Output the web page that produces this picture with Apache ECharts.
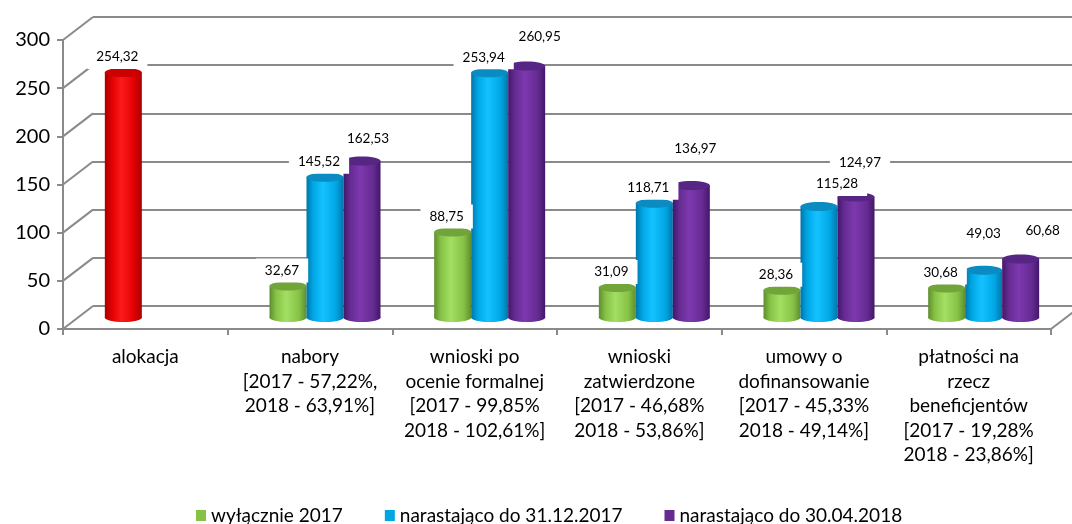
<!DOCTYPE html>
<html>
<head>
<meta charset="utf-8">
<script src="https://cdn.jsdelivr.net/npm/echarts@6/dist/echarts.min.js"></script>
<style>
  html, body { margin: 0; padding: 0; background: #fff; }
  #chart { width: 1072px; height: 524px; }
</style>
</head>
<body>
<div id="chart"></div>
<script>
// dane
const categories = [
  'alokacja',
  'nabory\n[2017 - 57,22%,\n2018 - 63,91%]',
  'wnioski po\nocenie formalnej\n[2017 - 99,85%\n2018 - 102,61%]',
  'wnioski\nzatwierdzone\n[2017 - 46,68%\n2018 - 53,86%]',
  'umowy o\ndofinansowanie\n[2017 - 45,33%\n2018 - 49,14%]',
  'płatności na\nrzecz\nbeneficjentów\n[2017 - 19,28%\n2018 - 23,86%]'
];
const allocation = [254.32, null, null, null, null, null];
const only2017 = [null, 32.67, 88.75, 31.09, 28.36, 30.68];
const upTo2017 = [null, 145.52, 253.94, 118.71, 115.28, 49.03];
const upTo2018 = [null, 162.53, 260.95, 136.97, 124.97, 60.68];
const seriesNames = ['wyłącznie 2017', 'narastająco do 31.12.2017', 'narastająco do 30.04.2018'];
const yTicks = [0, 50, 100, 150, 200, 250, 300];

// przesunięcia etykiet (jak w oryginale, ręcznie poprzesuwane)
const shiftUpTo2017 = [null, [0, 0], [0, 0], [0, 0], [24, -7], [6, -21]];
const shiftUpTo2018 = [null, [12, -7], [19, -14], [10, -21], [10, -19], [28, -13]];

const BAR_W = 37;
const RY = 4.5;
const DEPTH = [30, -23];
const LINE = '#8a8a8a';

const palette = {
  red:    { dark: '#a80000', mid: '#e00000', light: '#ff1a1a', top: '#cc0000' },
  green:  { dark: '#5f8d2e', mid: '#86c246', light: '#a3df62', top: '#71a53a' },
  blue:   { dark: '#0075a8', mid: '#00a6e4', light: '#14c2ff', top: '#0a8cc2' },
  purple: { dark: '#43176a', mid: '#652b92', light: '#7d39ae', top: '#572584' }
};

function fmt(v) {
  return v.toFixed(2).replace('.', ',');
}

function toData(values) {
  const out = [];
  values.forEach(function (v, i) { if (v != null) out.push([i, v]); });
  return out;
}

function cylinder(name, values, slot, c) {
  return {
    name: name,
    type: 'custom',
    xAxisIndex: 2,
    yAxisIndex: 2,
    z: 3,
    itemStyle: { color: c.mid },
    data: toData(values),
    renderItem: function (params, api) {
      const cat = api.value(0);
      const v = api.value(1);
      const top = api.coord([cat, v]);
      const base = api.coord([cat, 0]);
      const cx = top[0] + (slot - 1) * BAR_W;
      const hw = BAR_W / 2;
      const grad = new echarts.graphic.LinearGradient(0, 0, 1, 0, [
        { offset: 0, color: c.dark },
        { offset: 0.18, color: c.mid },
        { offset: 0.45, color: c.light },
        { offset: 0.8, color: c.mid },
        { offset: 1, color: c.dark }
      ]);
      return {
        type: 'group',
        children: [
          { type: 'ellipse', shape: { cx: cx, cy: base[1], rx: hw, ry: RY }, style: { fill: grad } },
          { type: 'rect', shape: { x: cx - hw, y: top[1], width: BAR_W, height: base[1] - top[1] }, style: { fill: grad } },
          { type: 'ellipse', shape: { cx: cx, cy: top[1], rx: hw, ry: RY }, style: { fill: c.top } }
        ]
      };
    }
  };
}

// etykiety wartości: [kategoria, wartość, slot, dx, dy]
const labelData = [];
allocation.forEach(function (v, i) { if (v != null) labelData.push([i, v, 0, 0, 0]); });
only2017.forEach(function (v, i) { if (v != null) labelData.push([i, v, 0, 0, 0]); });
upTo2017.forEach(function (v, i) { if (v != null) labelData.push([i, v, 1, shiftUpTo2017[i][0], shiftUpTo2017[i][1]]); });
upTo2018.forEach(function (v, i) { if (v != null) labelData.push([i, v, 2, shiftUpTo2018[i][0], shiftUpTo2018[i][1]]); });

const myChart = echarts.init(document.getElementById('chart'));

const option = {
  animation: false,
  textStyle: { fontFamily: 'Lato' },
  grid: [
    { left: 63, top: 40, width: 988, height: 289 },   // front
    { left: 93, top: 17, width: 988, height: 289 },   // back wall
    { left: 78, top: 28.5, width: 988, height: 289 }  // bar plane
  ],
  legend: {
    data: seriesNames,
    left: 196,
    top: 506,
    padding: 0,
    icon: 'rect',
    itemWidth: 10,
    itemHeight: 11,
    itemGap: 42,
    textStyle: { fontFamily: 'Lato', fontSize: 19, color: '#000' }
  },
  xAxis: [
    {
      type: 'category', gridIndex: 0, data: categories,
      axisLine: { lineStyle: { color: LINE, width: 2 } },
      axisTick: { show: true, length: 6, lineStyle: { color: LINE, width: 2 } },
      axisLabel: {
        interval: 0, margin: 16, color: '#000',
        fontSize: 19, lineHeight: 24.5, fontFamily: 'Lato'
      }
    },
    { type: 'category', gridIndex: 1, data: categories, show: false },
    { type: 'category', gridIndex: 2, data: categories, show: false }
  ],
  yAxis: [
    {
      type: 'value', gridIndex: 0, min: 0, max: 300, interval: 50,
      axisLine: { show: true, lineStyle: { color: LINE, width: 2 } },
      axisTick: { show: true, length: 6, lineStyle: { color: LINE, width: 2 } },
      axisLabel: { margin: 13, color: '#000', fontSize: 20, fontFamily: 'Lato' },
      splitLine: { show: false }
    },
    {
      type: 'value', gridIndex: 1, min: 0, max: 300, interval: 50,
      axisLine: { show: false }, axisTick: { show: false }, axisLabel: { show: false },
      splitLine: { show: true, lineStyle: { color: LINE, width: 2 } }
    },
    {
      type: 'value', gridIndex: 2, min: 0, max: 300, interval: 50, show: false,
      splitLine: { show: false }
    }
  ],
  series: [
    {
      // ukośne linie łączące oś z tylną ścianą
      type: 'custom',
      xAxisIndex: 0,
      yAxisIndex: 0,
      z: 1,
      silent: true,
      data: yTicks.map(function (t) { return [0, t]; }),
      renderItem: function (params, api) {
        const cs = params.coordSys;
        const y = api.coord([0, api.value(1)])[1];
        const lines = [{
          type: 'line',
          shape: { x1: cs.x, y1: y, x2: cs.x + DEPTH[0], y2: y + DEPTH[1] },
          style: { stroke: LINE, lineWidth: 2 }
        }];
        if (api.value(1) === 0) {
          lines.push({
            type: 'line',
            shape: { x1: cs.x + cs.width, y1: y, x2: cs.x + cs.width + DEPTH[0], y2: y + DEPTH[1] },
            style: { stroke: LINE, lineWidth: 2 }
          });
        }
        return { type: 'group', children: lines };
      }
    },
    cylinder('alokacja', allocation, 0, palette.red),
    cylinder(seriesNames[0], only2017, 0, palette.green),
    cylinder(seriesNames[1], upTo2017, 1, palette.blue),
    cylinder(seriesNames[2], upTo2018, 2, palette.purple),
    {
      type: 'custom',
      xAxisIndex: 2,
      yAxisIndex: 2,
      z: 10,
      silent: true,
      data: labelData,
      renderItem: function (params, api) {
        const p = api.coord([api.value(0), api.value(1)]);
        const x = p[0] + (api.value(2) - 1) * BAR_W - 6 + api.value(3);
        const y = p[1] - 15.5 + api.value(4);
        return {
          type: 'text',
          style: {
            text: fmt(api.value(1)),
            x: x, y: y,
            align: 'center', verticalAlign: 'middle',
            fill: '#000',
            font: '13.5px Lato',
            backgroundColor: '#fff',
            padding: [5, 9]
          }
        };
      }
    }
  ]
};

myChart.setOption(option);
window.addEventListener('resize', function () {
  myChart.resize();
});
</script>
</body>
</html>
